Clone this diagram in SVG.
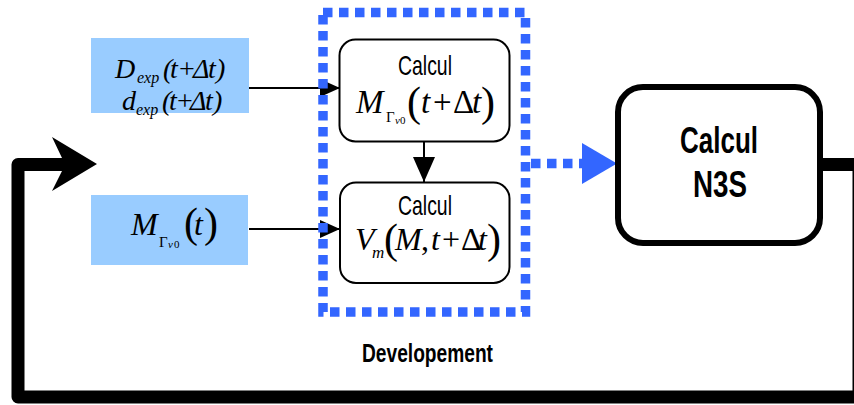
<svg xmlns="http://www.w3.org/2000/svg" width="854" height="405" viewBox="0 0 854 405">
<style>
.in{fill:#99CCFF}
.box{fill:#fff;stroke:#000;stroke-width:2}
.big{fill:#fff;stroke:#000;stroke-width:6}
.m{font-family:"Liberation Serif","Times New Roman",serif;font-style:italic;fill:#000}
.u{font-style:normal}
.lbl{font-family:"Liberation Sans Narrow","Liberation Sans",Arial,sans-serif;fill:#000}
.thin{stroke:#000;stroke-width:2;fill:none}
.dot{stroke:#3366FF;stroke-width:9.5;stroke-dasharray:9.5 6.5;fill:none}
.loop{stroke:#000;stroke-width:13;fill:none;stroke-linejoin:round}
</style>
<defs>
<marker id="ah" markerUnits="userSpaceOnUse" markerWidth="20" markerHeight="20" refX="20" refY="10" orient="auto" viewBox="0 0 20 20"><path d="M0,1 L20,10 L0,19 z" fill="#000"/></marker>
<marker id="ahd" markerUnits="userSpaceOnUse" markerWidth="25" markerHeight="24" refX="25" refY="12" orient="auto" viewBox="0 0 25 24"><path d="M0,1 L25,12 L0,23 z" fill="#000"/></marker>
</defs>
<g id="connectors">
<line class="thin" x1="249" y1="88" x2="340" y2="88" marker-end="url(#ah)"/>
<line class="thin" x1="249" y1="229" x2="340" y2="229" marker-end="url(#ah)"/>
<line class="thin" x1="424" y1="142" x2="424" y2="182" marker-end="url(#ahd)"/>
<path class="loop" d="M823 164.5 H859 V397 H18 V164.5 H64"/>
<polygon points="52,137 97,164 52,191 62,171 62,158" fill="#000"/>
</g>
<g id="input-dexp">
<rect class="in" x="91" y="38" width="158" height="75"/>
<text class="m" font-size="28" y="78"><tspan x="115">D</tspan><tspan x="137" y="83" font-size="16">exp</tspan><tspan x="163" y="78">(</tspan><tspan x="170">t</tspan><tspan x="179" class="u">+</tspan><tspan x="193">Δ</tspan><tspan x="208">t</tspan><tspan x="216">)</tspan></text>
<text class="m" font-size="28" y="110"><tspan x="122">d</tspan><tspan x="136" y="115" font-size="16">exp</tspan><tspan x="162" y="110">(</tspan><tspan x="169">t</tspan><tspan x="177" class="u">+</tspan><tspan x="190">Δ</tspan><tspan x="205">t</tspan><tspan x="213">)</tspan></text>
</g>
<g id="input-m">
<rect class="in" x="91" y="195" width="157" height="70"/>
<text class="m" font-size="32" y="235"><tspan x="131">M</tspan><tspan x="159" y="247" font-size="15" class="u">Γ</tspan><tspan x="168" y="248" font-size="11">v</tspan><tspan x="174" y="248" font-size="11" class="u">0</tspan><tspan x="184" y="237" font-size="42" class="u">(</tspan><tspan x="194" y="235">t</tspan><tspan x="204" y="237" font-size="42" class="u">)</tspan></text>
</g>
<g id="calcul-m">
<rect class="box" x="339.5" y="39.5" width="170" height="102" rx="16"/>
<text class="lbl" x="425" y="75" font-size="28" text-anchor="middle" textLength="54" lengthAdjust="spacingAndGlyphs">Calcul</text>
<text class="m" font-size="33" y="113"><tspan x="356">M</tspan><tspan x="386" y="122" font-size="15" class="u">Γ</tspan><tspan x="395" y="124" font-size="11">v</tspan><tspan x="400" y="124" font-size="11" class="u">0</tspan><tspan x="407" y="116" font-size="42" class="u">(</tspan><tspan x="421" y="113">t</tspan><tspan x="433" class="u">+</tspan><tspan x="453" class="u">Δ</tspan><tspan x="472">t</tspan><tspan x="481" y="116" font-size="42" class="u">)</tspan></text>
</g>
<g id="calcul-vm">
<rect class="box" x="340" y="182.5" width="169.5" height="100.5" rx="16"/>
<text class="lbl" x="425" y="215" font-size="28" text-anchor="middle" textLength="54" lengthAdjust="spacingAndGlyphs">Calcul</text>
<text class="m" font-size="32" y="250"><tspan x="355">V</tspan><tspan x="372" y="258" font-size="17">m</tspan><tspan x="384" y="253" font-size="42" class="u">(</tspan><tspan x="395" y="250">M</tspan><tspan x="421" class="u">,</tspan><tspan x="431">t</tspan><tspan x="442" class="u">+</tspan><tspan x="461" class="u">Δ</tspan><tspan x="478">t</tspan><tspan x="487" y="253" font-size="42" class="u">)</tspan></text>
</g>
<g id="developement">
<rect class="dot" x="323" y="12.5" width="202.5" height="299.5"/>
<line class="dot" x1="531" y1="163.5" x2="582" y2="163.5" stroke-dasharray="9 9"/>
<polygon points="582,143 617,163.5 582,184" fill="#3366FF"/>
<text class="lbl" x="427.5" y="362" font-size="25" font-weight="bold" text-anchor="middle" textLength="131" lengthAdjust="spacingAndGlyphs">Developement</text>
</g>
<g id="calcul-n3s">
<rect class="big" x="618" y="87" width="202" height="156" rx="25"/>
<text class="lbl" x="719" y="153" font-size="37" font-weight="bold" text-anchor="middle" textLength="78" lengthAdjust="spacingAndGlyphs">Calcul</text>
<text class="lbl" x="720" y="197" font-size="37" font-weight="bold" text-anchor="middle" textLength="54" lengthAdjust="spacingAndGlyphs">N3S</text>
</g>
</svg>
